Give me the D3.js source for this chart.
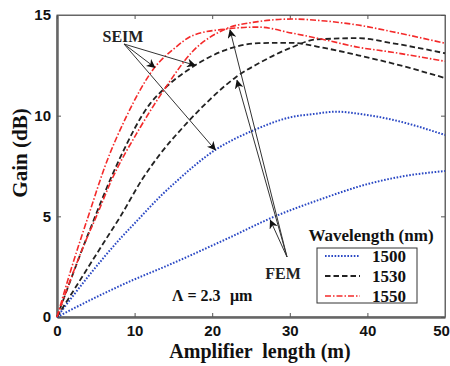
<!DOCTYPE html>
<html>
<head>
<meta charset="utf-8">
<script src="https://cdn.jsdelivr.net/npm/d3@7"></script>
<style>
  body { margin: 0; background: #fff; }
  svg { display: block; }
</style>
</head>
<body>
<script>
// x = amplifier length (m), y = gain (dB)
const xTicks = [0, 10, 20, 30, 40, 50];
const yTicks = [0, 5, 10, 15];

const blueSeim = [[0,0],[4,2.0],[8.4,4.0],[10,4.65],[13.6,6.1],[15,6.6],[20.4,8.3],[25.5,9.3],[30.3,9.94],[33,10.08],[36,10.2],[38.8,10.1],[43.2,9.8],[50,9.04]];
const blueFem = [[0,0],[6.2,1.2],[9.8,1.84],[13.9,2.5],[21.7,3.85],[28.1,5.0],[34,5.85],[40,6.6],[44.3,6.97],[50,7.25]];
const blackSeim = [[0,0],[4,4.1],[8,7.8],[12,10.6],[14,11.4],[17.8,12.5],[21.7,13.26],[26,13.6],[30,13.62],[34.6,13.35],[38.8,13.0],[43.2,12.6],[50,11.87]];
const blackFem = [[0,0],[6.2,3.8],[8.1,4.95],[11,6.85],[13.3,8.1],[16.3,9.45],[19.7,10.8],[21.7,11.5],[23,11.9],[26,12.6],[30.3,13.4],[33.3,13.78],[38.8,13.85],[43.2,13.6],[50,13.1]];
const redSeim = [[0,0],[2,2.6],[4.2,5.2],[6.2,7.5],[9,10.0],[12.6,12.4],[15,13.3],[17.6,14.0],[21.7,14.3],[25.9,14.4],[30.3,14.1],[34.6,13.76],[38.8,13.4],[43.2,13.15],[50,12.7]];
const redFem = [[0,0],[3.5,3.6],[5.3,5.2],[6.8,6.6],[10.7,9.4],[14,11.4],[17.5,13.2],[21.7,14.3],[25.9,14.67],[30.3,14.8],[34.6,14.7],[38.8,14.5],[43.2,14.17],[50,13.6]];

const legendNames = ["1500", "1530", "1550"];
const colors = ["#2a48c4", "#222222", "#f42a2a"];
const dashes = ["1.6,1.6", "5.5,3", "6,2,1.5,2"];
const widths = [2, 1.8, 1.6];

const w = 450, h = 366;
const margin = {left: 57, right: 5, top: 15, bottom: 49};

const xScale = d3.scaleLinear().domain([0, 50]).range([margin.left, w - margin.right]);
const yScale = d3.scaleLinear().domain([0, 15]).range([h - margin.bottom, margin.top]);

const svg = d3.select("body").append("svg")
  .attr("width", w)
  .attr("height", h);

const defs = svg.append("defs");
defs.append("marker")
  .attr("id", "arrow")
  .attr("viewBox", "0 0 10 10")
  .attr("refX", 9).attr("refY", 5)
  .attr("markerWidth", 9).attr("markerHeight", 9)
  .attr("markerUnits", "userSpaceOnUse")
  .attr("orient", "auto")
  .append("path")
  .attr("d", "M0,0 L10,5 L0,10 L3,5 Z")
  .attr("fill", "#111");

// frame
svg.append("rect")
  .attr("x", xScale(0)).attr("y", yScale(15))
  .attr("width", xScale(50) - xScale(0))
  .attr("height", yScale(0) - yScale(15))
  .attr("fill", "none")
  .attr("stroke", "#666")
  .attr("stroke-width", 1);

// axes, ticks pointing inward
const xAxis = d3.axisBottom(xScale).tickValues(xTicks).tickSizeInner(-4).tickSizeOuter(0).tickPadding(8);
const yAxis = d3.axisLeft(yScale).tickValues(yTicks).tickSizeInner(-4).tickSizeOuter(0).tickPadding(6);

const gx = svg.append("g").attr("transform", `translate(0,${yScale(0)})`).call(xAxis);
const gy = svg.append("g").attr("transform", `translate(${xScale(0)},0)`).call(yAxis);
svg.append("g").attr("transform", `translate(0,${yScale(15)})`)
  .call(d3.axisTop(xScale).tickValues(xTicks).tickSizeInner(-4).tickSizeOuter(0).tickFormat(""));
svg.append("g").attr("transform", `translate(${xScale(50)},0)`)
  .call(d3.axisRight(yScale).tickValues(yTicks).tickSizeInner(-4).tickSizeOuter(0).tickFormat(""));

svg.selectAll(".domain").attr("stroke", "#666");
svg.selectAll(".tick line").attr("stroke", "#555");
gx.select(".domain").attr("stroke-width", 2.5);
gy.select(".domain").attr("stroke-width", 2.5);
svg.selectAll(".tick text")
  .attr("font-family", "Arial, 'Liberation Sans', sans-serif")
  .attr("font-weight", "bold")
  .attr("font-size", 15)
  .attr("fill", "#111");
// keep the last x label inside the window
gx.selectAll(".tick text").filter(d => d === 50).attr("dx", -4);

// curves
const line = d3.line()
  .x(d => xScale(d[0]))
  .y(d => yScale(d[1]))
  .curve(d3.curveMonotoneX);

const series = [
  {data: blueSeim, k: 0}, {data: blueFem, k: 0},
  {data: blackSeim, k: 1}, {data: blackFem, k: 1},
  {data: redSeim, k: 2}, {data: redFem, k: 2}
];

svg.selectAll(".curve")
  .data(series)
  .enter()
  .append("path")
  .attr("class", "curve")
  .attr("d", d => line(d.data))
  .attr("fill", "none")
  .attr("stroke", d => colors[d.k])
  .attr("stroke-width", d => widths[d.k])
  .attr("stroke-dasharray", d => dashes[d.k]);

// annotation arrows
const seimFrom = [124, 44];
const seimTo = [[12.6, 12.4], [17.8, 12.5], [20.4, 8.3]];
const femFrom = [287, 257];
const femTo = [[22.3, 14.25], [23.2, 11.75], [27.5, 4.8]];

svg.selectAll(".seim-arrow")
  .data(seimTo)
  .enter()
  .append("line")
  .attr("x1", seimFrom[0]).attr("y1", seimFrom[1])
  .attr("x2", d => xScale(d[0])).attr("y2", d => yScale(d[1]))
  .attr("stroke", "#333").attr("stroke-width", 1)
  .attr("marker-end", "url(#arrow)");

svg.selectAll(".fem-arrow")
  .data(femTo)
  .enter()
  .append("line")
  .attr("x1", femFrom[0]).attr("y1", femFrom[1])
  .attr("x2", d => xScale(d[0])).attr("y2", d => yScale(d[1]))
  .attr("stroke", "#333").attr("stroke-width", 1)
  .attr("marker-end", "url(#arrow)");

const serif = "'Liberation Serif', 'Times New Roman', serif";

svg.append("text")
  .attr("x", 123).attr("y", 42)
  .attr("text-anchor", "middle")
  .attr("font-family", serif).attr("font-weight", "bold").attr("font-size", 16)
  .attr("fill", "#222")
  .text("SEIM");

svg.append("text")
  .attr("x", 283).attr("y", 279)
  .attr("text-anchor", "middle")
  .attr("font-family", serif).attr("font-weight", "bold").attr("font-size", 16)
  .attr("fill", "#222")
  .text("FEM");

const lam = svg.append("text")
  .attr("x", 172).attr("y", 301)
  .attr("font-family", serif).attr("font-weight", "bold").attr("font-size", 16)
  .attr("fill", "#111");
lam.append("tspan").text("Λ = 2.3");
lam.append("tspan").attr("x", 230).text("μm");

// axis titles
svg.append("text")
  .attr("x", 260).attr("y", 358)
  .attr("text-anchor", "middle")
  .attr("font-family", serif).attr("font-weight", "bold").attr("font-size", 20)
  .attr("fill", "#111")
  .style("white-space", "pre")
  .text("Amplifier  length (m)");

svg.append("text")
  .attr("transform", `translate(27,153)rotate(-90)`)
  .attr("text-anchor", "middle")
  .attr("font-family", serif).attr("font-weight", "bold").attr("font-size", 21)
  .attr("fill", "#111")
  .text("Gain (dB)");

// legend
svg.append("text")
  .attr("x", 371).attr("y", 241)
  .attr("text-anchor", "middle")
  .attr("font-family", serif).attr("font-weight", "bold").attr("font-size", 17)
  .attr("fill", "#111")
  .text("Wavelength (nm)");

svg.append("rect")
  .attr("x", 317).attr("y", 248)
  .attr("width", 100).attr("height", 55)
  .attr("fill", "#fff")
  .attr("stroke", "#333").attr("stroke-width", 1);

const legend = svg.selectAll(".legend")
  .data(legendNames)
  .enter()
  .append("g")
  .attr("class", "legend")
  .attr("transform", (d, i) => `translate(325,${256 + i * 20})`);

legend.append("line")
  .attr("x1", 0).attr("x2", 35)
  .attr("y1", 0).attr("y2", 0)
  .attr("stroke", (d, i) => colors[i])
  .attr("stroke-width", (d, i) => widths[i])
  .attr("stroke-dasharray", (d, i) => dashes[i]);

legend.append("text")
  .attr("x", 47).attr("y", 6)
  .attr("font-family", serif).attr("font-weight", "bold").attr("font-size", 17)
  .attr("fill", "#111")
  .text(d => d);
</script>
</body>
</html>
